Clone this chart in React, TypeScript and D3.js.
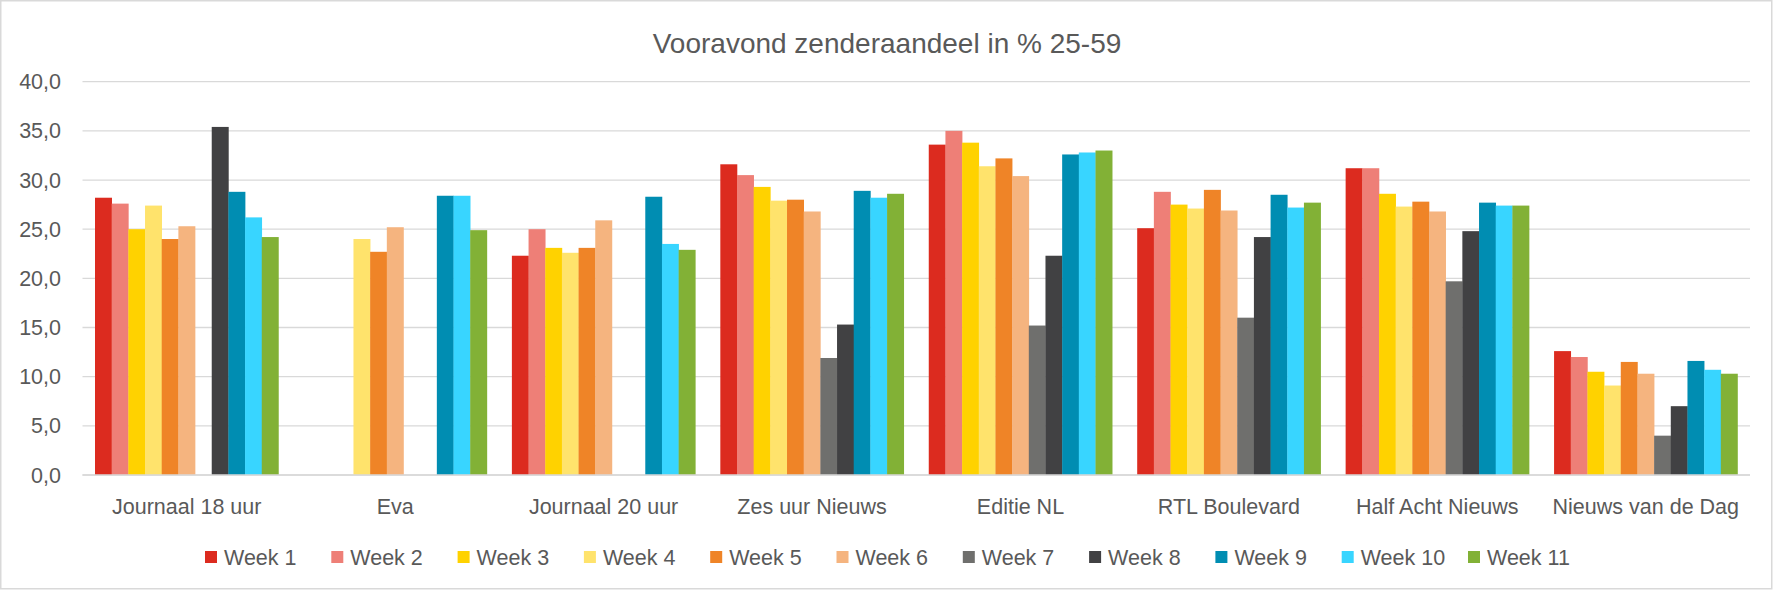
import React from "react";
import * as d3 from "d3";

const title = "Vooravond zenderaandeel in % 25-59";
const programmes = [
  "Journaal 18 uur",
  "Eva",
  "Journaal 20 uur",
  "Zes uur Nieuws",
  "Editie NL",
  "RTL Boulevard",
  "Half Acht Nieuws",
  "Nieuws van de Dag",
];
const weeks = ["Week 1", "Week 2", "Week 3", "Week 4", "Week 5", "Week 6", "Week 7", "Week 8", "Week 9", "Week 10", "Week 11"];
const weekColors = ["#DC2B1F", "#EE7F77", "#FFD200", "#FFE36C", "#EF8427", "#F5B47F", "#6F6F6D", "#414143", "#008DB2", "#38D5FF", "#82B136"];

// values per programme, per week (null = no bar)
const journaal18 = [28.2, 27.6, 25.0, 27.4, 24.0, 25.3, null, 35.4, 28.8, 26.2, 24.2];
const eva = [null, null, null, 24.0, 22.7, 25.2, null, null, 28.4, 28.4, 24.9];
const journaal20 = [22.3, 25.0, 23.1, 22.6, 23.1, 25.9, null, null, 28.3, 23.5, 22.9];
const zesUur = [31.6, 30.5, 29.3, 27.9, 28.0, 26.8, 11.9, 15.3, 28.9, 28.2, 28.6];
const editieNL = [33.6, 35.0, 33.8, 31.4, 32.2, 30.4, 15.2, 22.3, 32.6, 32.8, 33.0];
const rtlBoulevard = [25.1, 28.8, 27.5, 27.1, 29.0, 26.9, 16.0, 24.2, 28.5, 27.2, 27.7];
const halfAcht = [31.2, 31.2, 28.6, 27.3, 27.8, 26.8, 19.7, 24.8, 27.7, 27.4, 27.4];
const nieuwsVanDeDag = [12.6, 12.0, 10.5, 9.1, 11.5, 10.3, 4.0, 7.0, 11.6, 10.7, 10.3];
const yTicks = [0, 5, 10, 15, 20, 25, 30, 35, 40];

const seriesByProgramme = [journaal18, eva, journaal20, zesUur, editieNL, rtlBoulevard, halfAcht, nieuwsVanDeDag];

const W = 1774;
const H = 592;
const FONT = "'Liberation Sans', Arial, sans-serif";
const TEXT = "#595959";
const GRID = "#D9D9D9";

export default function App() {
  const plotLeft = 82.5;
  const plotRight = 1750;
  const x0 = d3
    .scaleBand<string>()
    .domain(programmes)
    .range([plotLeft, plotRight])
    .paddingInner(0.12)
    .paddingOuter(0.06);
  const x1 = d3.scaleBand<string>().domain(weeks).range([0, x0.bandwidth()]).padding(0);
  const y = d3.scaleLinear().domain([0, 40]).range([475, 81.7]);
  const fmt = (v: number) => d3.format(".1f")(v).replace(".", ",");

  const legendStart = 205;
  const legendStep = 126.3;
  const legendY = 557;

  return (
    <svg
      width={W}
      height={H}
      style={{ position: "absolute", left: 0, top: 0, background: "#fff" }}
      fontFamily={FONT}
    >
      <rect x={0} y={0} width={W} height={H} fill="#fff" />
      <rect x={0.75} y={0.75} width={1771} height={588} fill="none" stroke={GRID} strokeWidth={1.5} />
      <text x={W / 2} y={53} textAnchor="middle" fontSize={28} fill={TEXT}>
        {title}
      </text>
      {yTicks.map((t) => (
        <g key={t}>
          <line x1={plotLeft} x2={plotRight} y1={y(t)} y2={y(t)} stroke={GRID} strokeWidth={1.3} />
          <text x={61} y={y(t)} dy="0.35em" textAnchor="end" fontSize={21.5} fill={TEXT}>
            {fmt(t)}
          </text>
        </g>
      ))}
      {programmes.map((p, pi) => (
        <g key={p} transform={`translate(${x0(p)},0)`}>
          {seriesByProgramme[pi].map((v, wi) =>
            v == null ? null : (
              <rect
                key={wi}
                x={x1(weeks[wi])}
                y={y(v)}
                width={x1.bandwidth() + 0.3}
                height={y(0) - y(v)}
                fill={weekColors[wi]}
              />
            )
          )}
        </g>
      ))}
      <line x1={plotLeft} x2={plotRight} y1={y(0)} y2={y(0)} stroke={GRID} strokeWidth={1.5} />
      {programmes.map((p) => (
        <text
          key={p}
          x={(x0(p) as number) + x0.bandwidth() / 2}
          y={514}
          textAnchor="middle"
          fontSize={21.5}
          fill={TEXT}
        >
          {p}
        </text>
      ))}
      {weeks.map((w, i) => (
        <g key={w} transform={`translate(${legendStart + i * legendStep},${legendY})`}>
          <rect x={0} y={-6} width={12} height={12} fill={weekColors[i]} />
          <text x={19} y={0} dy="0.35em" fontSize={21.5} fill={TEXT}>
            {w}
          </text>
        </g>
      ))}
    </svg>
  );
}
